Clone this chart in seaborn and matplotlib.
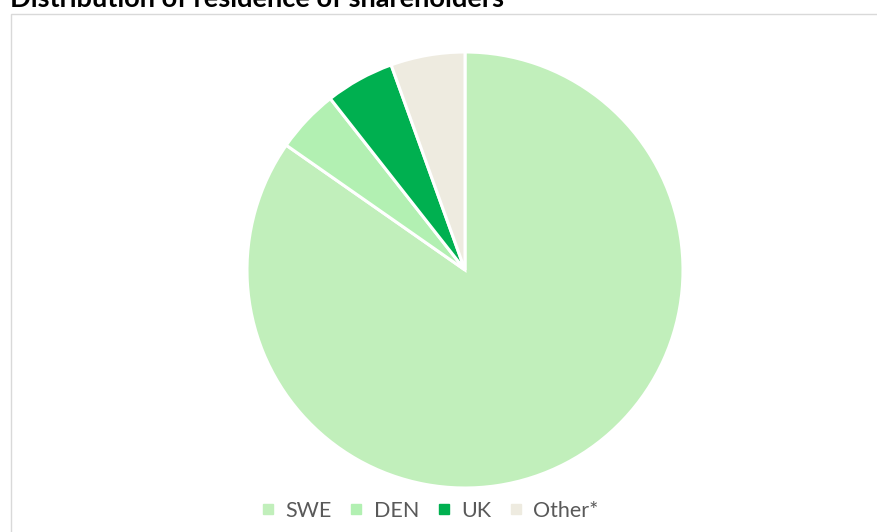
import matplotlib
matplotlib.use("Agg")
import matplotlib.pyplot as plt
from matplotlib.lines import Line2D
from matplotlib.patches import Rectangle
import seaborn as sns

# Shareholder residence shares (%)
countries = ["SWE", "DEN", "UK", "Other*"]
shares = [84.7, 4.7, 5.1, 5.5]
colors = ["#C1EFBB", "#B2F0B2", "#00B050", "#EEEBE0"]

sns.set_theme(style="white")
plt.rcParams["font.family"] = ["Lato", "DejaVu Sans"]

W, H = 878, 532
fig = plt.figure(figsize=(W / 100, H / 100), dpi=100)

# chart frame
fig.patches.append(Rectangle((11 / W, -0.1), 1.2, 1 - 13.5 / H + 0.1,
                             transform=fig.transFigure, fill=False,
                             edgecolor="#D9D9D9", linewidth=1.0))

# pie axes: center (465, 270), radius 218 px
cx, cy, r = 465, 270, 218
ax = fig.add_axes([(cx - r) / W, 1 - (cy + r) / H, 2 * r / W, 2 * r / H])
ax.pie(shares, colors=colors, startangle=90, counterclock=False, radius=1,
       wedgeprops=dict(edgecolor="white", linewidth=2.2))
ax.set_xlim(-1, 1)
ax.set_ylim(-1, 1)
ax.set_aspect("auto")
ax.axis("off")

fig.text(10 / W, 1 - 7 / H, "Distribution of residence of shareholders",
         fontsize=19.6, fontweight="bold", color="black", va="baseline", ha="left")

handles = [Line2D([], [], marker="s", linestyle="none", markersize=7,
                  markerfacecolor=c, markeredgecolor=c) for c in colors]
fig.legend(handles, countries, loc="center", bbox_to_anchor=(429 / W, 1 - 511 / H),
           ncol=4, frameon=False, fontsize=15.5, labelcolor="#595959",
           handlelength=0.8, handletextpad=0.4, columnspacing=0.75)

fig.savefig("out.png", dpi=100)
